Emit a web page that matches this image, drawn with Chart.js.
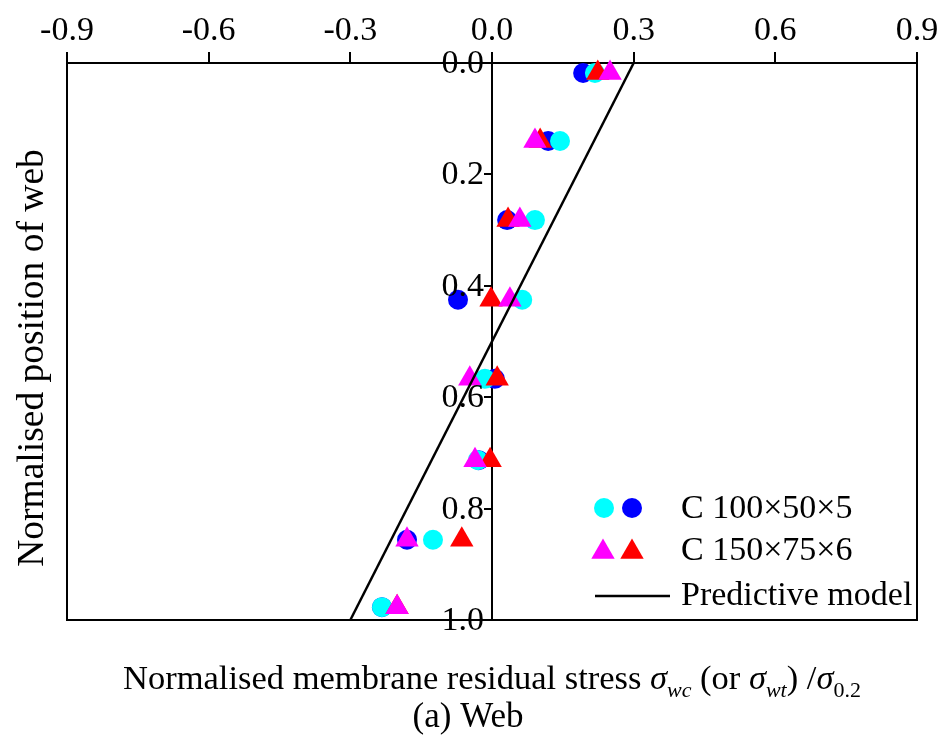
<!DOCTYPE html>
<html>
<head>
<meta charset="utf-8">
<script src="https://cdn.jsdelivr.net/npm/chart.js@4/dist/chart.umd.min.js"></script>
<style>
  html, body { margin: 0; padding: 0; background: #fff; }
  #wrap { width: 944px; height: 738px; position: relative; }
</style>
</head>
<body>
<div id="wrap"><canvas id="c" width="944" height="738"></canvas></div>
<script>
// ---- Data ----
const positions = [0.018, 0.140, 0.282, 0.425, 0.567, 0.713, 0.856, 0.977];
const c100Cyan  = [0.218, 0.144, 0.091, 0.064, -0.015, -0.030, -0.125, -0.233];
const c100Blue  = [0.193, 0.119, 0.032, -0.072, 0.006, -0.028, -0.180, -0.233];
const c150Magenta = [0.250, 0.091, 0.059, 0.038, -0.047, -0.036, -0.180, -0.201];
const c150Red     = [0.224, 0.102, 0.034, -0.002, 0.011, -0.004, -0.064, -0.201];
const modelStress = [0.3, -0.3];
const modelPos    = [0.0, 1.0];
const xTicks = [-0.9, -0.6, -0.3, 0.0, 0.3, 0.6, 0.9];
const yTicks = [0.0, 0.2, 0.4, 0.6, 0.8, 1.0];
const legendLabels = ['C 100\u00d750\u00d75', 'C 150\u00d775\u00d76', 'Predictive model'];

const FONT = '"Liberation Serif", "Times New Roman", serif';
const fmt = (v) => (Math.abs(v) < 1e-9 ? 0 : v).toFixed(1);

function pts(xs, ys) { return xs.map((x, i) => ({ x: x, y: ys[i] })); }

const boxPlugin = {
  id: 'boxPlugin',
  beforeDatasetsDraw(chart) {
    const { ctx, chartArea: a } = chart;
    ctx.save();
    ctx.strokeStyle = '#000';
    ctx.lineWidth = 2;
    ctx.strokeRect(a.left, a.top, a.right - a.left, a.bottom - a.top);
    ctx.restore();
  }
};

// y tick labels placed left of the tick marks of the zero-positioned axis
const yLabelPlugin = {
  id: 'yLabelPlugin',
  afterDraw(chart) {
    const { ctx } = chart;
    const ys = chart.scales.y, xs = chart.scales.x;
    const ax = xs.getPixelForValue(0);
    ctx.save();
    ctx.fillStyle = '#000';
    ctx.font = '34px ' + FONT;
    ctx.textAlign = 'right';
    ctx.textBaseline = 'middle';
    ys.ticks.forEach(t => {
      ctx.fillText(fmt(t.value), ax - 8, ys.getPixelForValue(t.value) + 1);
    });
    ctx.restore();
  }
};

const textPlugin = {
  id: 'textPlugin',
  afterDraw(chart) {
    const { ctx } = chart;
    ctx.save();
    ctx.fillStyle = '#000';
    // Y title
    ctx.save();
    ctx.translate(33, 358);
    ctx.rotate(-Math.PI / 2);
    ctx.font = '37.5px ' + FONT;
    ctx.textAlign = 'center';
    ctx.textBaseline = 'middle';
    ctx.fillText('Normalised position of web', 0, 0);
    ctx.restore();

    // X title with runs
    const runs = [
      { t: 'Normalised membrane residual stress ', f: '34.5px ' + FONT, dy: 0 },
      { t: '\u03c3', f: 'italic 34.5px ' + FONT, dy: 0 },
      { t: 'wc', f: 'italic 22px ' + FONT, dy: 8 },
      { t: ' (or ', f: '34.5px ' + FONT, dy: 0 },
      { t: '\u03c3', f: 'italic 34.5px ' + FONT, dy: 0 },
      { t: 'wt', f: 'italic 22px ' + FONT, dy: 8 },
      { t: ') /', f: '34.5px ' + FONT, dy: 0 },
      { t: '\u03c3', f: 'italic 34.5px ' + FONT, dy: 0 },
      { t: '0.2', f: '22px ' + FONT, dy: 8 }
    ];
    let total = 0;
    runs.forEach(r => { ctx.font = r.f; r.w = ctx.measureText(r.t).width; total += r.w; });
    let x = 492 - total / 2;
    const baseY = 689;
    ctx.textAlign = 'left';
    ctx.textBaseline = 'alphabetic';
    runs.forEach(r => { ctx.font = r.f; ctx.fillText(r.t, x, baseY + r.dy); x += r.w; });

    ctx.font = '35px ' + FONT;
    ctx.textAlign = 'center';
    ctx.fillText('(a) Web', 468, 727);

    // Legend
    function circle(cx, cy, r, col) {
      ctx.beginPath(); ctx.arc(cx, cy, r, 0, Math.PI * 2); ctx.fillStyle = col; ctx.fill();
    }
    function tri(cx, cy, r, col) {
      ctx.beginPath();
      for (let k = 0; k < 3; k++) {
        const ang = k * 2 * Math.PI / 3;
        const px = cx + Math.sin(ang) * r, py = cy - Math.cos(ang) * r;
        if (k === 0) ctx.moveTo(px, py); else ctx.lineTo(px, py);
      }
      ctx.closePath(); ctx.fillStyle = col; ctx.fill();
    }
    circle(604, 508, 10, '#00ffff');
    circle(632, 508, 10, '#0000ff');
    tri(603, 552, 13.5, '#ff00ff');
    tri(632, 552, 13.5, '#ff0000');
    ctx.beginPath();
    ctx.moveTo(595, 596); ctx.lineTo(670, 596);
    ctx.strokeStyle = '#000'; ctx.lineWidth = 2.5; ctx.stroke();
    ctx.fillStyle = '#000';
    ctx.font = '34px ' + FONT;
    ctx.textAlign = 'left';
    ctx.textBaseline = 'middle';
    ctx.fillText(legendLabels[0], 681, 509);
    ctx.fillText(legendLabels[1], 681, 551);
    ctx.fillText(legendLabels[2], 681, 596);
    ctx.restore();
  }
};

const scatterBase = { type: 'scatter', showLine: false, borderWidth: 0, pointBorderWidth: 0, clip: false };

new Chart(document.getElementById('c'), {
  type: 'scatter',
  data: {
    datasets: [
      { ...scatterBase, label: 'C 100 blue', data: pts(c100Blue, positions), pointStyle: 'circle', pointRadius: 10, pointHoverRadius: 10, backgroundColor: '#0000ff', borderColor: '#0000ff', order: 4 },
      { ...scatterBase, label: 'C 100 cyan', data: pts(c100Cyan, positions), pointStyle: 'circle', pointRadius: 10, pointHoverRadius: 10, backgroundColor: '#00ffff', borderColor: '#00ffff', order: 3 },
      { ...scatterBase, label: 'C 150 red', data: pts(c150Red, positions), pointStyle: 'triangle', pointRadius: 13.5, pointHoverRadius: 13.5, backgroundColor: '#ff0000', borderColor: '#ff0000', order: 2 },
      { ...scatterBase, label: 'C 150 magenta', data: pts(c150Magenta, positions), pointStyle: 'triangle', pointRadius: 13.5, pointHoverRadius: 13.5, backgroundColor: '#ff00ff', borderColor: '#ff00ff', order: 1 },
      { type: 'scatter', label: 'Predictive model', data: pts(modelStress, modelPos), showLine: true, borderColor: '#000', borderWidth: 2.5, pointRadius: 0, pointHoverRadius: 0, fill: false, order: 0, clip: false }
    ]
  },
  options: {
    responsive: false,
    animation: false,
    events: [],
    layout: { padding: { left: 67, right: 27, top: 0, bottom: 118 } },
    plugins: { legend: { display: false }, tooltip: { enabled: false } },
    scales: {
      x: {
        type: 'linear',
        position: 'top',
        min: xTicks[0],
        max: xTicks[xTicks.length - 1],
        afterBuildTicks: (s) => { s.ticks = xTicks.map(v => ({ value: v })); },
        afterFit: (s) => { s.height = 63; },
        ticks: {
          color: '#000',
          font: { family: FONT, size: 34 },
          padding: 1,
          maxRotation: 0,
          autoSkip: false,
          callback: fmt
        },
        grid: { display: true, drawOnChartArea: false, drawTicks: true, tickLength: 11, color: '#000', lineWidth: 2 },
        border: { display: true, color: '#000', width: 2 }
      },
      y: {
        type: 'linear',
        position: { x: 0 },
        reverse: true,
        min: yTicks[0],
        max: yTicks[yTicks.length - 1],
        afterBuildTicks: (s) => { s.ticks = yTicks.map(v => ({ value: v })); },
        afterFit: (s) => { s.width = 0; },
        ticks: {
          display: false,
          color: '#000',
          font: { family: FONT, size: 34 },
          autoSkip: false,
          callback: fmt
        },
        grid: { display: true, drawOnChartArea: false, drawTicks: true, tickLength: 7, color: '#000', lineWidth: 2 },
        border: { display: true, color: '#000', width: 2 }
      }
    }
  },
  plugins: [boxPlugin, yLabelPlugin, textPlugin]
});
</script>
</body>
</html>
